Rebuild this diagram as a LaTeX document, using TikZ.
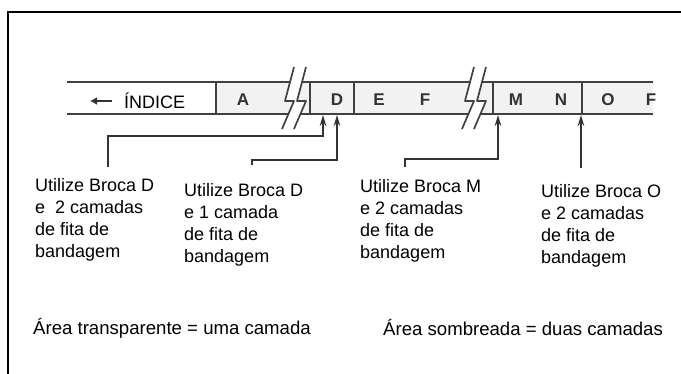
\documentclass[tikz,border=0pt]{standalone}
\usepackage{fontspec}
\setmainfont{Liberation Sans}
\usetikzlibrary{arrows.meta}

\begin{document}
\begin{tikzpicture}[x=1pt, y=-1pt,
% styles
moldura/.style={line width=2.4pt, black},
tira/.style={line width=1.8pt, black!75},
quebra/.style={line width=1.7pt, black!75, line join=round},
letra/.style={font=\fontsize{17}{17}\selectfont\bfseries, text=black!80, inner sep=0pt},
rotulo/.style={font=\fontsize{18}{22}\selectfont, align=left, anchor=north west, inner sep=0pt},
legenda/.style={font=\fontsize{18.6}{22}\selectfont, anchor=west, inner sep=0pt},
seta/.style={line width=2pt, black!80, -{Stealth[length=11pt, width=6.5pt]}}
]

\useasboundingbox (0,0) rectangle (681,374);

% frame
\draw[moldura] (8,374) -- (8,12) -- (681,12);

% shaded cells of the strip
\fill[black!5] (216,82) rectangle (653,114);

% strip lines
\draw[tira] (67,82) -- (653,82);
\draw[tira] (67,114) -- (653,114);
\foreach \x in {216,310,354,493,582}
  \draw[tira] (\x,82) -- (\x,114);

% breaks in the strip
\foreach \ta/\tb in {294/306, 474/486} {
  \fill[white] (\ta,67) -- (\ta-9,101) -- (\ta,101) -- (\ta-12,129)
    -- (\tb-12,129) -- (\tb,101) -- (\tb-9,101) -- (\tb,67) -- cycle;
  \draw[quebra] (\ta,67) -- (\ta-9,101) -- (\ta,101) -- (\ta-12,129);
  \draw[quebra] (\tb,67) -- (\tb-9,101) -- (\tb,101) -- (\tb-12,129);
}

% letters
\foreach \x/\l in {243/A, 337/D, 379/E, 425/F, 516/M, 561/N, 608/O}
  \node[letra] (let_\l) at (\x,100) {\l};
\begin{scope}
  \clip (640,82) rectangle (655,114);
  \node[letra] (let_p) at (651,100) {F};
\end{scope}

% index
\node[font=\fontsize{18}{18}\selectfont, anchor=west, inner sep=0pt] (indice) at (124,101) {ÍNDICE};
\draw[line width=2.6pt, black!80, -{Latex[length=7pt, width=8pt]}]
  ([xshift=-12pt]indice.west) -- ([xshift=-34pt]indice.west);

% labels
\node[rotulo] (lbl_d2) at (35,178) {Utilize Broca D\\e\ \ 2 camadas\\de fita de\\bandagem};
\node[rotulo] (lbl_d1) at (184,183) {Utilize Broca D\\e 1 camada\\de fita de\\bandagem};
\node[rotulo] (lbl_m) at (360,179) {Utilize Broca M\\e 2 camadas\\de fita de\\bandagem};
\node[rotulo] (lbl_o) at (541,184) {Utilize Broca O\\e 2 camadas\\de fita de\\bandagem};

% legend
\node[legenda] (leg_t) at (33,328) {Área transparente = uma camada};
\node[legenda] (leg_s) at (383,328) {Área sombreada = duas camadas};

% connector ends
\coordinate (foot_d2) at (108,167);
\coordinate (foot_d1) at (252,165);
\coordinate (foot_m) at (405,167);
\coordinate (foot_o) at (581,168);
\coordinate (tip_d2) at (323,115);
\coordinate (tip_d1) at (337,115);
\coordinate (tip_m) at (498,115);
\coordinate (tip_o) at (581,115);

% draw connectors
\draw[seta] (foot_d2) -- ++(0,-31) -| (tip_d2);
\draw[seta] (foot_d1) -- ++(0,-5) -| (tip_d1);
\draw[seta] (foot_m) -- ++(0,-8) -| (tip_m);
\draw[seta] (foot_o) -- (tip_o);

\end{tikzpicture}
\end{document}
